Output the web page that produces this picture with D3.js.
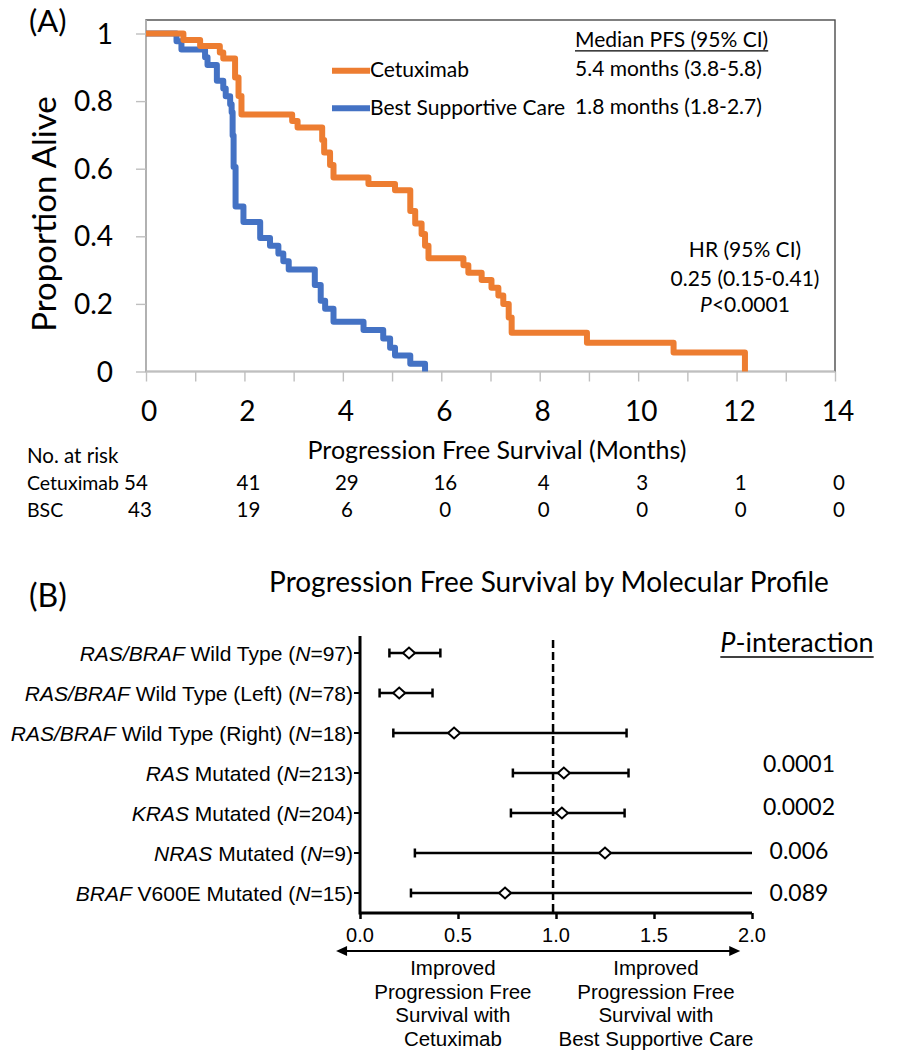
<!DOCTYPE html>
<html><head><meta charset="utf-8">
<script src="https://cdn.jsdelivr.net/npm/d3@7"></script>
<style>body{margin:0;background:#fff} svg{display:block}</style>
</head><body>
<svg id="c" width="905" height="1050"></svg>
<script>
// ---------------- DATA ----------------
const kmTickLabels = [0,2,4,6,8,10,12,14];
const kmYTicks = [0,0.2,0.4,0.6,0.8,1];
const riskCetuximab = [54,41,29,16,4,3,1,0];
const riskBSC = [43,19,6,0,0,0,0,0];
const cetuxTime = [0,0.76,1.10,1.50,1.57,1.81,1.88,1.94,2.97,3.08,3.58,3.62,3.74,3.81,4.52,5.06,5.37,5.47,5.60,5.67,5.74,6.45,6.55,6.82,7.02,7.16,7.26,7.37,7.43,8.96,10.72,12.17];
const cetuxSurv = [1,0.981,0.963,0.944,0.926,0.870,0.815,0.760,0.741,0.722,0.685,0.648,0.611,0.574,0.555,0.536,0.475,0.438,0.407,0.372,0.335,0.314,0.292,0.271,0.248,0.225,0.200,0.160,0.115,0.085,0.056,0];
const bscTime = [0,0.62,0.72,1.20,1.25,1.44,1.57,1.62,1.71,1.74,1.76,1.78,1.82,1.98,2.32,2.52,2.69,2.79,2.90,3.43,3.55,3.64,3.81,4.42,4.82,4.96,5.06,5.37,5.67];
const bscSurv = [1,0.977,0.953,0.930,0.907,0.860,0.837,0.814,0.791,0.767,0.698,0.605,0.488,0.442,0.395,0.372,0.349,0.326,0.302,0.256,0.209,0.186,0.147,0.123,0.098,0.070,0.047,0.023,0];

const subgroupGene = ["RAS/BRAF","RAS/BRAF","RAS/BRAF","RAS","KRAS","NRAS","BRAF"];
const subgroupDesc = [" Wild Type"," Wild Type (Left)"," Wild Type (Right)"," Mutated"," Mutated"," Mutated"," V600E Mutated"];
const subgroupN = [97,78,18,213,204,9,15];
const hazardRatio = [0.25,0.20,0.48,1.04,1.03,1.25,0.74];
const ciLower = [0.15,0.10,0.17,0.78,0.77,0.28,0.26];
const ciUpper = [0.41,0.37,1.36,1.37,1.35,2.5,2.5]; // last two run past the axis end
const pInteraction = ["","","","0.0001","0.0002","0.006","0.089"];
const forestTicks = [0,0.5,1,1.5,2];
const referenceHR = 0.985;

// ---------------- DRAW ----------------
const svg = d3.select("#c");
const ORANGE = "#ED7D31", BLUE = "#4472C4";
const LATO = "Lato, 'Open Sans', sans-serif";
const ARIAL = "'Liberation Sans', Arial, sans-serif";

// Panel A scales
const x = d3.scaleLinear().domain([0,14]).range([146,835]);
const y = d3.scaleLinear().domain([0,1]).range([371.5,33.5]);
const plotTop = 20;

svg.append("rect").attr("x",x(0)).attr("y",plotTop).attr("width",x(14)-x(0)).attr("height",y(0)-plotTop)
  .attr("fill","none").attr("stroke","#4a4a4a").attr("stroke-width",1.4);

const gy = svg.append("g").attr("transform",`translate(${x(0)},0)`)
  .call(d3.axisLeft(y).tickValues(kmYTicks).tickSize(10).tickFormat(""));
gy.select(".domain").remove();
gy.selectAll("line").attr("stroke","#bfbfbf").attr("stroke-width",1.4);
const gx = svg.append("g").attr("transform",`translate(0,${y(0)})`)
  .call(d3.axisBottom(x).tickValues(d3.range(0,15)).tickSize(10).tickFormat(""));
gx.select(".domain").remove();
gx.selectAll("line").attr("stroke","#bfbfbf").attr("stroke-width",1.4);
svg.append("line").attr("x1",x(0)).attr("x2",x(0)).attr("y1",plotTop).attr("y2",y(0)).attr("stroke","#bfbfbf").attr("stroke-width",1.6);
svg.append("line").attr("x1",x(0)).attr("x2",x(14)).attr("y1",y(0)).attr("y2",y(0)).attr("stroke","#bfbfbf").attr("stroke-width",1.6);

svg.selectAll(".ylab").data(kmYTicks).join("text")
  .attr("x",113).attr("y",d=>y(d)+10).attr("text-anchor","end")
  .style("font-family",LATO).style("font-size","28px").text(d3.format("~g"));
svg.selectAll(".xlab").data(kmTickLabels).join("text")
  .attr("x",d=>x(d)+3).attr("y",421).attr("text-anchor","middle")
  .style("font-family",LATO).style("font-size","28px").text(d=>d);

const line = d3.line().x(d=>x(d[0])).y(d=>y(d[1])).curve(d3.curveStepAfter);
const series = [
  {t:bscTime, s:bscSurv, c:BLUE},
  {t:cetuxTime, s:cetuxSurv, c:ORANGE}
];
series.forEach(sr=>{
  svg.append("path").attr("d",line(sr.t.map((t,i)=>[t,sr.s[i]])))
    .attr("fill","none").attr("stroke",sr.c).attr("stroke-width",6).attr("stroke-linejoin","round");
});

// legend
const legend = [{c:ORANGE,label:"Cetuximab",med:"5.4 months (3.8-5.8)",ly:70.7,by:77.3},
                {c:BLUE,label:"Best Supportive Care",med:"1.8 months (1.8-2.7)",ly:108.3,by:115}];
legend.forEach(l=>{
  svg.append("line").attr("x1",332).attr("x2",370).attr("y1",l.ly).attr("y2",l.ly)
    .attr("stroke",l.c).attr("stroke-width",6);
  svg.append("text").attr("x",370).attr("y",l.by).style("font-family",LATO).style("font-size","21px").text(l.label);
  svg.append("text").attr("x",575).attr("y",l.by-1.5).style("font-family",LATO).style("font-size","21px").text(l.med);
});
const mt = svg.append("text").attr("x",575).attr("y",47.3).style("font-family",LATO).style("font-size","21px").text("Median PFS (95% CI)");
const mb = mt.node().getBBox();
svg.append("line").attr("x1",mb.x).attr("x2",mb.x+mb.width).attr("y1",50.8).attr("y2",50.8).attr("stroke","#000").attr("stroke-width",1.3);

svg.append("text").attr("x",745).attr("y",257.3).attr("text-anchor","middle").style("font-family",LATO).style("font-size","21px").text("HR (95% CI)");
svg.append("text").attr("x",745).attr("y",285.7).attr("text-anchor","middle").style("font-family",LATO).style("font-size","21px").text("0.25 (0.15-0.41)");
const pt = svg.append("text").attr("x",745).attr("y",312.3).attr("text-anchor","middle").style("font-family",LATO).style("font-size","21px");
pt.append("tspan").style("font-style","italic").text("P");
pt.append("tspan").text("<0.0001");

svg.append("text").attr("x",29).attr("y",32).style("font-family",LATO).style("font-size","31px").text("(A)");
svg.append("text").attr("transform","translate(56,214) rotate(-90)").attr("text-anchor","middle")
  .style("font-family",LATO).style("font-size","33px").text("Proportion Alive");
svg.append("text").attr("x",497).attr("y",459).attr("text-anchor","middle").style("font-family",LATO).style("font-size","25px").text("Progression Free Survival (Months)");

svg.append("text").attr("x",27).attr("y",463).style("font-family",LATO).style("font-size","20.5px").text("No. at risk");
const riskRows = [{name:"Cetuximab",vals:riskCetuximab,by:490,first:136},{name:"BSC",vals:riskBSC,by:517,first:140}];
riskRows.forEach(r=>{
  svg.append("text").attr("x",27).attr("y",r.by).style("font-family",LATO).style("font-size","19.5px").text(r.name);
  svg.selectAll(null).data(r.vals).join("text")
    .attr("x",(d,i)=> i===0 ? r.first : x(kmTickLabels[i])+4).attr("y",r.by).attr("text-anchor","middle")
    .style("font-family",LATO).style("font-size","20.5px").text(d=>d);
});

// ---------------- Panel B ----------------
svg.append("text").attr("x",29).attr("y",607).style("font-family",LATO).style("font-size","32px").text("(B)");
svg.append("text").attr("x",549).attr("y",592).attr("text-anchor","middle").style("font-family",LATO).style("font-size","28px").text("Progression Free Survival by Molecular Profile");

const xf = d3.scaleLinear().domain([0,2]).range([360,752]).clamp(true);
const yf = d3.scalePoint().domain(d3.range(subgroupN.length)).range([653,893]);

// axes
svg.append("line").attr("x1",xf(0)).attr("x2",xf(0)).attr("y1",636).attr("y2",914.5).attr("stroke","#000").attr("stroke-width",3);
const gfx = svg.append("g").attr("transform","translate(0,913)")
  .call(d3.axisBottom(xf).tickValues(forestTicks).tickSize(6).tickFormat(""));
gfx.select(".domain").attr("stroke-width",3).attr("d",`M${xf(0)},0H${xf(2)}`);
gfx.selectAll(".tick line").attr("stroke-width",2.5);
svg.selectAll(".fxl").data(forestTicks).join("text")
  .attr("x",d=>xf(d)).attr("y",942).attr("text-anchor","middle")
  .style("font-family",ARIAL).style("font-size","20px").text(d3.format(".1f"));

// y ticks for rows
svg.selectAll(".frt").data(subgroupN).join("line")
  .attr("x1",xf(0)-6).attr("x2",xf(0)).attr("y1",(d,i)=>yf(i)).attr("y2",(d,i)=>yf(i))
  .attr("stroke","#000").attr("stroke-width",2);

// labels
subgroupN.forEach((n,i)=>{
  const t = svg.append("text").attr("x",353).attr("y",yf(i)+7.5).attr("text-anchor","end")
    .style("font-family",ARIAL).style("font-size","21px");
  t.append("tspan").style("font-style","italic").text(subgroupGene[i]);
  t.append("tspan").text(subgroupDesc[i]+" (");
  t.append("tspan").style("font-style","italic").text("N");
  t.append("tspan").text("="+n+")");
});

// reference dashed line
svg.append("line").attr("x1",xf(referenceHR)).attr("x2",xf(referenceHR)).attr("y1",640).attr("y2",913)
  .attr("stroke","#000").attr("stroke-width",2.5).attr("stroke-dasharray","8,4");

// CIs
subgroupN.forEach((n,i)=>{
  const yy = yf(i);
  svg.append("line").attr("x1",xf(ciLower[i])).attr("x2",xf(ciUpper[i])).attr("y1",yy).attr("y2",yy)
    .attr("stroke","#000").attr("stroke-width",2.5);
  [ciLower[i],ciUpper[i]].forEach(v=>{
    if (v<=2) svg.append("line").attr("x1",xf(v)).attr("x2",xf(v)).attr("y1",yy-4.5).attr("y2",yy+4.5)
      .attr("stroke","#000").attr("stroke-width",2.5);
  });
  const cx = xf(hazardRatio[i]);
  svg.append("path").attr("d",`M${cx-6},${yy}L${cx},${yy-5.5}L${cx+6},${yy}L${cx},${yy+5.5}Z`)
    .attr("fill","#fff").attr("stroke","#000").attr("stroke-width",2);
});

// P-interaction
const pi = svg.append("text").attr("x",797).attr("y",652).attr("text-anchor","middle").style("font-family",LATO).style("font-size","27px");
pi.append("tspan").style("font-style","italic").text("P");
pi.append("tspan").text("-interaction");
const pib = pi.node().getBBox();
svg.append("line").attr("x1",pib.x).attr("x2",pib.x+pib.width).attr("y1",657).attr("y2",657).attr("stroke","#000").attr("stroke-width",1.6);
const pShift = [0,0,0,-9,-6,-2,0];
svg.selectAll(".pv").data(pInteraction).join("text")
  .attr("x",799).attr("y",(d,i)=>yf(i)+8+pShift[i]).attr("text-anchor","middle")
  .style("font-family",LATO).style("font-size","23px").text(d=>d);

// arrow
const ay = 951;
const xfu = xf.copy().clamp(false);
const arrowL = xfu(-0.122), arrowR = xfu(1.94);
svg.append("line").attr("x1",arrowL+8).attr("x2",arrowR-8).attr("y1",ay).attr("y2",ay).attr("stroke","#000").attr("stroke-width",2);
svg.append("path").attr("d",`M${arrowL},${ay}L${arrowL+11},${ay-5}L${arrowL+11},${ay+5}Z`).attr("fill","#000");
svg.append("path").attr("d",`M${arrowR},${ay}L${arrowR-11},${ay-5}L${arrowR-11},${ay+5}Z`).attr("fill","#000");

const leftText = ["Improved","Progression Free","Survival with","Cetuximab"];
const rightText = ["Improved","Progression Free","Survival with","Best Supportive Care"];
[[leftText,0.474],[rightText,1.51]].forEach(([lines,pos])=>{
  svg.selectAll(null).data(lines).join("text")
    .attr("x",xf(pos)).attr("y",(d,i)=>975+23.5*i).attr("text-anchor","middle")
    .style("font-family",ARIAL).style("font-size","20.5px").text(d=>d);
});
</script>
</body></html>
